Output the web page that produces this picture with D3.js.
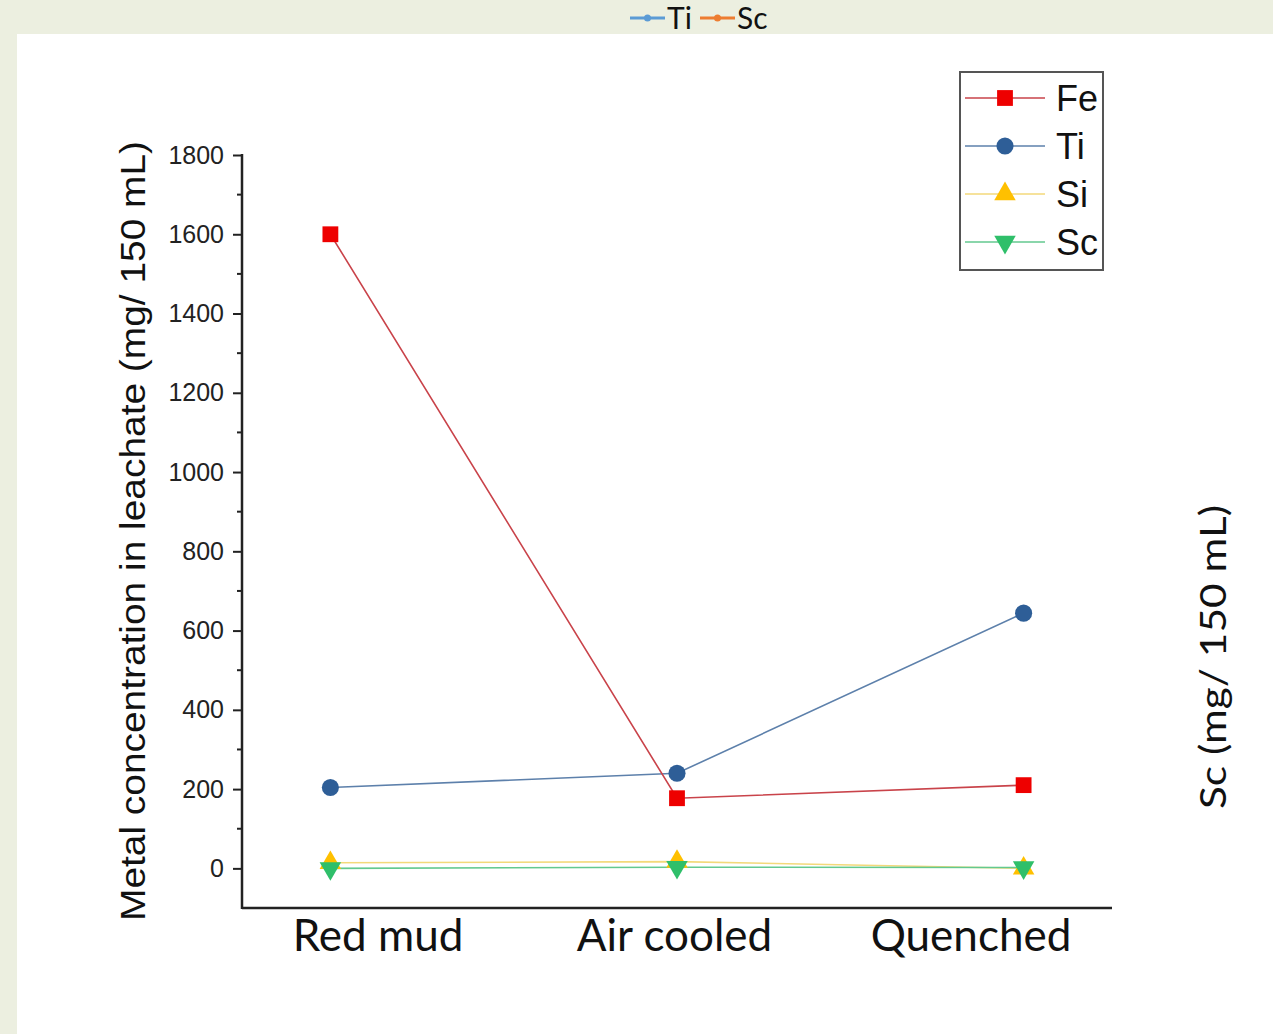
<!DOCTYPE html>
<html>
<head>
<meta charset="utf-8">
<script src="https://cdn.jsdelivr.net/npm/d3@7"></script>
<style>
  html, body { margin: 0; padding: 0; background: #ecefe0; }
  svg { display: block; }
</style>
</head>
<body>
<div id="chart"></div>
<script>
// categories and series
const categories = ['Red mud', 'Air cooled', 'Quenched'];
const feValues = [1600, 177, 210];
const tiValues = [204, 240, 644];
const siValues = [14, 17, 0];
const scValues = [0, 3, 2];
const yTicks = [0, 200, 400, 600, 800, 1000, 1200, 1400, 1600, 1800];
const topLegend = ['Ti', 'Sc'];

const series = [
  { name: 'Fe', values: feValues, line: '#c9434a', fill: '#ee0000', shape: d3.symbolSquare, size: 250, rot: 0 },
  { name: 'Ti', values: tiValues, line: '#5d80ab', fill: '#2e5e97', shape: d3.symbolCircle, size: 230, rot: 0 },
  { name: 'Si', values: siValues, line: '#f3d97a', fill: '#ffc000', shape: d3.symbolTriangle, size: 200, rot: 0 },
  { name: 'Sc', values: scValues, line: '#63c98f', fill: '#2fbf6a', shape: d3.symbolTriangle, size: 200, rot: 180 }
];

const W = 1273, H = 1034;
const svg = d3.select('#chart').append('svg')
  .attr('width', W)
  .attr('height', H);

// white panel below the greenish header strip
svg.append('rect')
  .attr('x', 17).attr('y', 34)
  .attr('width', W - 17).attr('height', H - 34)
  .attr('fill', '#ffffff');

const plot = { left: 242, right: 1112, top: 155, bottom: 908 };

const x = d3.scalePoint()
  .domain(categories)
  .range([plot.left, plot.right])
  .padding(0.255);

const y = d3.scaleLinear()
  .domain([-100, 1800])
  .range([plot.bottom, plot.top]);

// y axis with major + minor ticks
const yAxis = d3.axisLeft(y)
  .tickValues(yTicks)
  .tickFormat(d3.format('d'))
  .tickSize(9)
  .tickPadding(9)
  .tickSizeOuter(0);

const yg = svg.append('g')
  .attr('transform', `translate(${plot.left},0)`)
  .call(yAxis);
yg.select('.domain').remove();
yg.selectAll('.tick line').attr('stroke', '#222').attr('stroke-width', 2);
yg.selectAll('.tick text')
  .attr('font-family', 'Liberation Sans, Arial, sans-serif')
  .attr('font-size', 25)
  .attr('fill', '#222');

const minor = d3.range(-100, 1800, 200);
svg.append('g').selectAll('line')
  .data(minor.filter(v => v > -100))
  .join('line')
    .attr('x1', plot.left - 5).attr('x2', plot.left)
    .attr('y1', d => y(d)).attr('y2', d => y(d))
    .attr('stroke', '#222').attr('stroke-width', 2);

// axis lines
svg.append('line')
  .attr('x1', plot.left).attr('x2', plot.left)
  .attr('y1', y(1800) - 1).attr('y2', plot.bottom + 1)
  .attr('stroke', '#222').attr('stroke-width', 2.5);
svg.append('line')
  .attr('x1', plot.left).attr('x2', plot.right)
  .attr('y1', plot.bottom).attr('y2', plot.bottom)
  .attr('stroke', '#222').attr('stroke-width', 2.5);

// category labels (sit a little off the points in the original)
const xLabel = d3.scalePoint()
  .domain(categories)
  .range([378, 971]);
svg.append('g').selectAll('text')
  .data(categories)
  .join('text')
    .attr('x', d => xLabel(d))
    .attr('y', 951)
    .attr('text-anchor', 'middle')
    .attr('font-family', 'Lato, sans-serif')
    .attr('font-size', 44)
    .attr('fill', '#111')
    .text(d => d);

// y title
svg.append('text')
  .attr('transform', `translate(145,531) rotate(-90)`)
  .attr('text-anchor', 'middle')
  .attr('font-family', 'Liberation Sans, Arial, sans-serif')
  .attr('font-size', 35)
  .attr('textLength', 780)
  .attr('lengthAdjust', 'spacingAndGlyphs')
  .attr('fill', '#111')
  .text('Metal concentration in leachate (mg/ 150 mL)');

// right-hand secondary title
svg.append('text')
  .attr('transform', `translate(1226,657) rotate(-90)`)
  .attr('text-anchor', 'middle')
  .attr('font-family', 'Lato, sans-serif')
  .attr('font-size', 37)
  .attr('textLength', 304)
  .attr('lengthAdjust', 'spacingAndGlyphs')
  .attr('fill', '#111')
  .text('Sc (mg/ 150 mL)');

// lines
const line = d3.line()
  .x((d, i) => x(categories[i]))
  .y(d => y(d));

const drawOrder = [2, 3, 1, 0];
drawOrder.forEach(k => {
  const s = series[k];
  svg.append('path')
    .datum(s.values)
    .attr('d', line)
    .attr('fill', 'none')
    .attr('stroke', s.line)
    .attr('stroke-width', 1.6);
});
drawOrder.forEach(k => {
  const s = series[k];
  svg.append('g').selectAll('path')
    .data(s.values)
    .join('path')
      .attr('d', d3.symbol().type(s.shape).size(s.size))
      .attr('transform', (d, i) => `translate(${x(categories[i])},${y(d)}) rotate(${s.rot})`)
      .attr('fill', s.fill);
});

// legend box
const lg = svg.append('g').attr('transform', 'translate(960,72)');
lg.append('rect')
  .attr('width', 143).attr('height', 198)
  .attr('fill', '#fff')
  .attr('stroke', '#555').attr('stroke-width', 2);
const rows = lg.selectAll('g.row')
  .data(series)
  .join('g')
    .attr('class', 'row')
    .attr('transform', (d, i) => `translate(0,${26 + i * 48})`);
rows.append('line')
  .attr('x1', 5).attr('x2', 85)
  .attr('stroke', d => d.line).attr('stroke-width', 1.6);
rows.append('path')
  .attr('d', d => d3.symbol().type(d.shape).size(d.size)())
  .attr('transform', d => `translate(45,0) rotate(${d.rot})`)
  .attr('fill', d => d.fill);
rows.append('text')
  .attr('x', 96).attr('y', 13)
  .attr('font-family', 'Liberation Sans, Arial, sans-serif')
  .attr('font-size', 36)
  .attr('fill', '#111')
  .text(d => d.name);

// small legend in the header strip
const topColors = ['#5b9bd5', '#ed7d31'];
const tl = svg.append('g').attr('transform', 'translate(630,18)');
const items = tl.selectAll('g')
  .data(topLegend)
  .join('g')
    .attr('transform', (d, i) => `translate(${i * 70},0)`);
items.append('line')
  .attr('x1', 0).attr('x2', 35)
  .attr('stroke', (d, i) => topColors[i]).attr('stroke-width', 3);
items.append('circle')
  .attr('cx', 17.5).attr('r', 3.5)
  .attr('fill', (d, i) => topColors[i]);
items.append('text')
  .attr('x', 37).attr('y', 11)
  .attr('font-family', 'Lato, sans-serif')
  .attr('font-size', 30)
  .attr('fill', '#111')
  .text(d => d);
</script>
</body>
</html>
